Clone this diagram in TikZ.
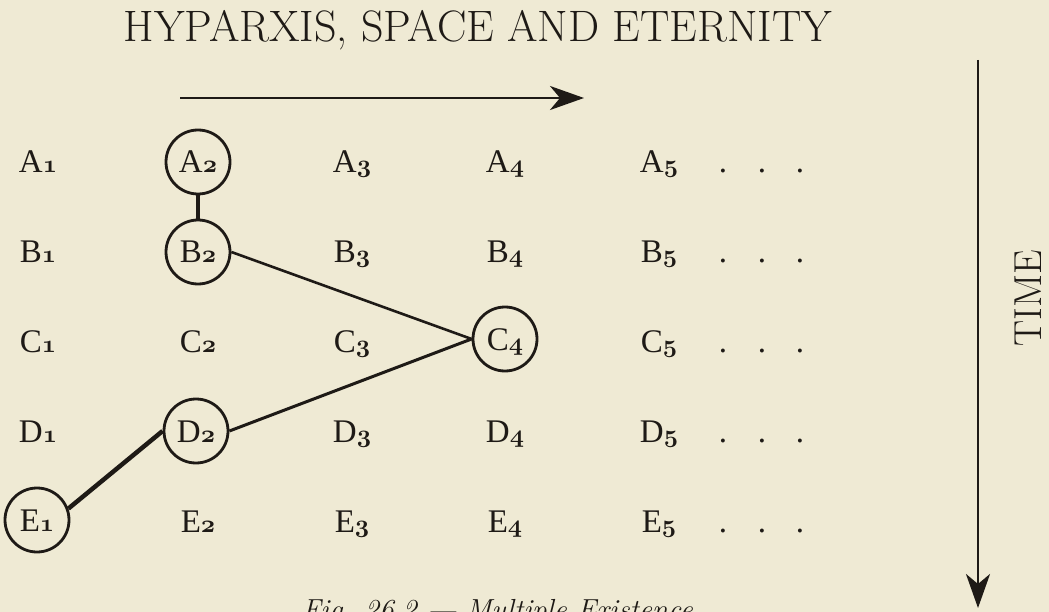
\documentclass[tikz,border=0pt]{standalone}
\usepackage{fontspec}
\usetikzlibrary{arrows.meta}
\newfontfamily\labfont{Liberation Serif}
\newcommand{\osd}[1]{{\usefont{OML}{cmm}{b}{it}#1}}
\definecolor{paper}{RGB}{239,234,212}
\definecolor{ink}{RGB}{30,26,22}
\begin{document}
\begin{tikzpicture}[x=1pt,y=-1pt,
  every node/.style={text=ink},
  lab/.style={font=\fontsize{33}{38}\labfont, text height=22pt, text depth=0pt, inner sep=0pt},
  circ/.style={lab, draw=ink, circle, minimum size=64pt, line width=2.8pt},
  ttl/.style={font=\fontsize{44}{50}\selectfont, inner sep=0pt},
  link/.style={draw=ink, line width=2.6pt},
  arr/.style={draw=ink, line width=2.8pt, -{Stealth[length=34pt,width=24pt,inset=10pt]}}]
\fill[paper] (0,0) rectangle (1049,612);
\useasboundingbox (0,0) rectangle (1049,612);
\clip (0,0) rectangle (1049,612);
% title and arrows
\node[ttl, anchor=base] (title) at (478,42) {HYPARXIS, SPACE AND ETERNITY};
\coordinate (hs) at (180,98);
\coordinate (he) at (584,98);
\draw[arr] (hs) -- (he);
\coordinate (ts) at (978,60);
\coordinate (te) at (978,608);
\draw[arr] (ts) -- (te);
\node[ttl, font=\fontsize{39}{46}\selectfont, rotate=90] (time) at (1028,298) {TIME};
% row A
\node[lab] (A1) at (38,162) {A\osd{1}};
\node[circ] (A2) at (198,162) {A\osd{2}};
\node[lab] (A3) at (352,162) {A\osd{3}};
\node[lab] (A4) at (505,162) {A\osd{4}};
\node[lab] (A5) at (659,162) {A\osd{5}};
% row B
\node[lab] (B1) at (38,252) {B\osd{1}};
\node[circ] (B2) at (198,252) {B\osd{2}};
\node[lab] (B3) at (352,252) {B\osd{3}};
\node[lab] (B4) at (505,252) {B\osd{4}};
\node[lab] (B5) at (659,252) {B\osd{5}};
% row C
\node[lab] (C1) at (38,341) {C\osd{1}};
\node[lab] (C2) at (198,341) {C\osd{2}};
\node[lab] (C3) at (352,341) {C\osd{3}};
\node[circ] (C4) at (505,339) {C\osd{4}};
\node[lab] (C5) at (659,341) {C\osd{5}};
% row D
\node[lab] (D1) at (38,431) {D\osd{1}};
\node[circ] (D2) at (196,431) {D\osd{2}};
\node[lab] (D3) at (352,431) {D\osd{3}};
\node[lab] (D4) at (505,431) {D\osd{4}};
\node[lab] (D5) at (659,431) {D\osd{5}};
% row E
\node[circ] (E1) at (37,520) {E\osd{1}};
\node[lab] (E2) at (198,521) {E\osd{2}};
\node[lab] (E3) at (352,521) {E\osd{3}};
\node[lab] (E4) at (505,521) {E\osd{4}};
\node[lab] (E5) at (659,521) {E\osd{5}};
% dots
\foreach \r/\y in {A/162,B/252,C/341,D/431,E/521}{
  \node[lab] (\r d1) at (723,\y) {.};
  \node[lab] (\r d2) at (762,\y) {.};
  \node[lab] (\r d3) at (800,\y) {.};
}
% connectors
\draw[link, line width=3.4pt] (A2) -- (B2);
\draw[link, line width=2.6pt] (B2.east) -- (C4.west);
\draw[link, line width=3pt] (D2.east) -- (C4.west);
\draw[link, line width=4.5pt] (E1.20) -- (D2.west);
% caption
\node[font=\fontsize{29}{34}\itshape, anchor=base west, inner sep=0pt] (cap) at (302,619) {Fig. 26.2 --- Multiple Existence};
\end{tikzpicture}
\end{document}
